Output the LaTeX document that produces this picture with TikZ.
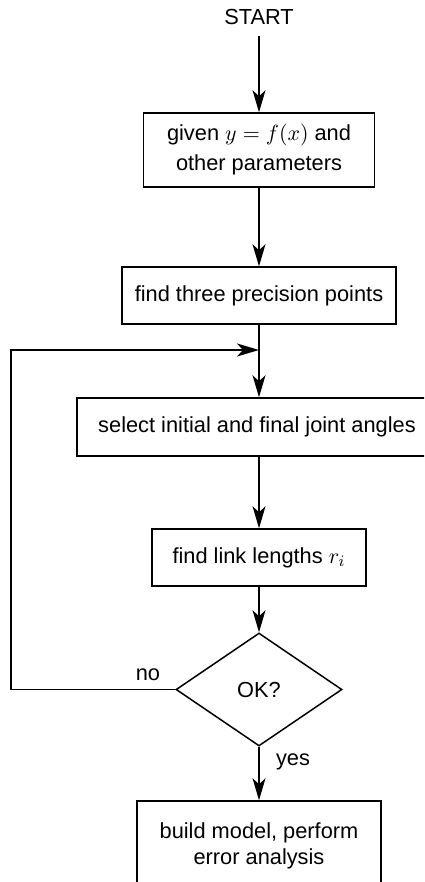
\documentclass[tikz,border=0pt]{standalone}
\usepackage{fontspec}
\setmainfont{Liberation Sans}
\usetikzlibrary{shapes.geometric,arrows.meta}

\begin{document}
\begin{tikzpicture}[x=0.5pt,y=-0.5pt,
  every node/.style={font=\fontsize{10.9}{13}\selectfont},
  box/.style={draw,line width=0.75pt,align=center,inner sep=0pt},
  okbox/.style={draw,diamond,line width=0.75pt,inner sep=0pt,minimum width=83pt,minimum height=56.5pt},
  flow/.style={line width=0.75pt,-{Stealth[length=11pt,width=6.5pt,inset=3pt]}}]
\clip (0,0) rectangle (424,882);
\useasboundingbox (0,0) rectangle (424,882);
% steps of the procedure
\node[inner sep=5.5pt] (start) at (259,17) {START};
\node[box,minimum width=115.5pt,minimum height=37pt] (given) at (259,150) {given $y=f(x)$ and\\[2pt]other parameters};
\node[box,minimum width=137pt,minimum height=28.5pt] (three) at (259,295.5) {find three precision points};
\coordinate (join) at (259,350);
\node[box,minimum width=180pt,minimum height=29pt] (angles) at (257,427) {select initial and final joint angles};
\node[box,minimum width=107pt,minimum height=28.5pt] (links) at (259,557.5) {find link lengths $r_i$};
\node[okbox] (check) at (259,689.5) {OK?};
\node[box,minimum width=122pt,minimum height=44.5pt] (model) at (259,845.5) {build model, perform\\error analysis};
\coordinate (corner) at (11,350);
% connectors
\draw[flow] (start) -- (given);
\draw[flow] (given) -- (three);
\draw[flow] (three) -- (angles.north -| join);
\draw[flow] (angles.south -| join) -- (links);
\draw[flow] (links) -- (check);
\draw[flow] (check) -- (model);
\draw[flow] (check.west) -- (check.west -| corner) -- (corner) -- (join);
% branch labels
\node (no) at (148,675) {no};
\node (yes) at (293,762) {yes};
\end{tikzpicture}
\end{document}
